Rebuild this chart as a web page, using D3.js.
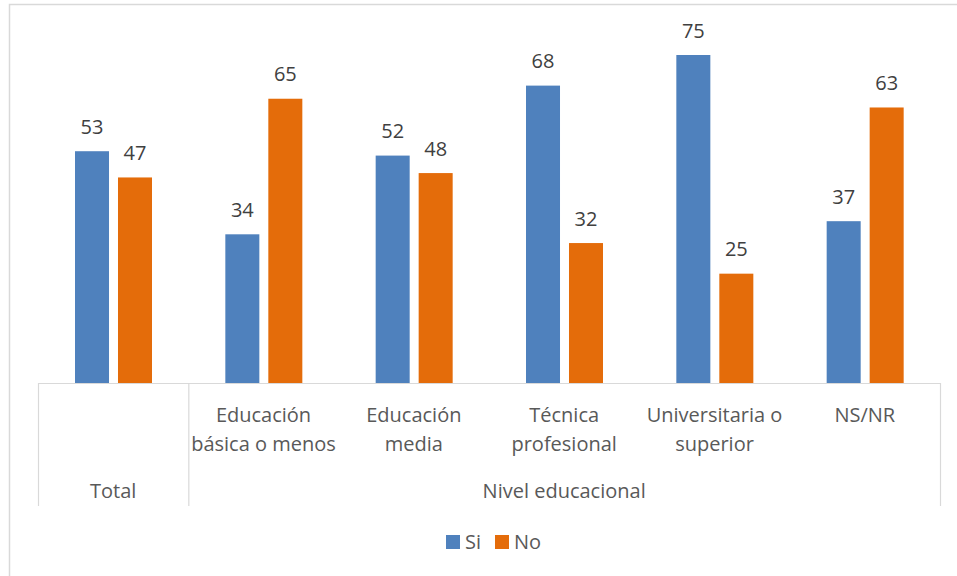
<!DOCTYPE html>
<html><head><meta charset="utf-8">
<script src="https://cdn.jsdelivr.net/npm/d3@7"></script>
<style>body{margin:0;background:#fff}svg{display:block}text{font-family:"Open Sans","Liberation Sans",sans-serif}</style>
</head><body><svg id="c" width="957" height="576"></svg>
<script>
const categories = ["Total","Educación básica o menos","Educación media","Técnica profesional","Universitaria o superior","NS/NR"];
const categoryLines = [[""],["Educación","básica o menos"],["Educación","media"],["Técnica","profesional"],["Universitaria o","superior"],["NS/NR"]];
const groups = [{name:"Total",from:0,to:0},{name:"Nivel educacional",from:1,to:5}];
const seriesNames = ["Si","No"];
const siValues = [53,34,52,68,75,37];
const noValues = [47,65,48,32,25,63];
const colors = ["#4F81BD","#E46C0A"];

const svg = d3.select("#c");
svg.append("rect").attr("x",9.5).attr("y",4.5).attr("width",960).attr("height",600)
  .attr("fill","#fff").attr("stroke","#D9D9D9").attr("stroke-width",1.5);

const x0 = d3.scaleBand().domain(categories).range([38,940]).paddingInner(0).paddingOuter(0);
const x1 = d3.scaleBand().domain(seriesNames).range([37,114]).paddingInner(0.209).paddingOuter(0);
const y = d3.scaleLinear().domain([0,75]).range([383,55]);

const data = categories.map((c,i)=>({cat:c, vals:[siValues[i],noValues[i]]}));
const g = svg.append("g");
data.forEach((d)=>{
  d.vals.forEach((v,j)=>{
    const bx = x0(d.cat) + x1(seriesNames[j]);
    g.append("rect").attr("x",bx).attr("y",y(v)).attr("width",x1.bandwidth()).attr("height",y(0)-y(v)).attr("fill",colors[j]);
    g.append("text").attr("x",bx + x1.bandwidth()/2).attr("y",y(v)-17.5).attr("text-anchor","middle")
      .attr("font-size",20).attr("fill","#404040").text(v);
  });
});

// axis
const axisColor="#D9D9D9";
svg.append("line").attr("x1",38).attr("x2",940).attr("y1",383.5).attr("y2",383.5).attr("stroke",axisColor).attr("stroke-width",1.2);
const seps=[0,1,6];
seps.forEach(i=>{
  const xx = i<6 ? x0(categories[i]) : x0(categories[5])+x0.bandwidth();
  svg.append("line").attr("x1",xx+0.5).attr("x2",xx+0.5).attr("y1",383).attr("y2",506).attr("stroke",axisColor).attr("stroke-width",1.2);
});
categories.forEach((c,i)=>{
  const cx = x0(c)+x0.bandwidth()/2;
  categoryLines[i].forEach((ln,k)=>{
    svg.append("text").attr("x",cx).attr("y",422+k*29).attr("text-anchor","middle").attr("font-size",20).attr("fill","#595959").text(ln);
  });
});
groups.forEach(gr=>{
  const a = x0(categories[gr.from]), b = x0(categories[gr.to])+x0.bandwidth();
  svg.append("text").attr("x",(a+b)/2).attr("y",498).attr("text-anchor","middle").attr("font-size",20).attr("fill","#595959").text(gr.name);
});

// legend
const leg=[{x:446,t:"Si"},{x:495,t:"No"}];
leg.forEach((l,i)=>{
  svg.append("rect").attr("x",l.x).attr("y",535).attr("width",14).attr("height",14).attr("fill",colors[i]);
  svg.append("text").attr("x",l.x+19).attr("y",549).attr("font-size",20).attr("fill","#595959").text(l.t);
});
</script></body></html>
